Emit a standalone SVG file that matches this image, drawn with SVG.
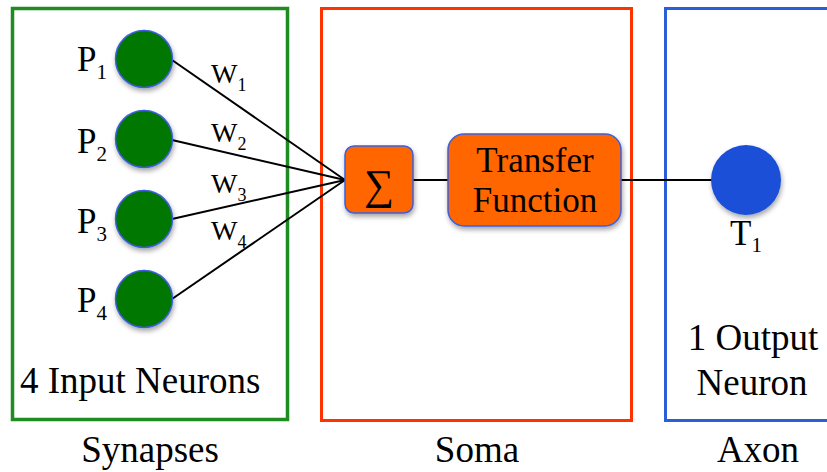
<svg xmlns="http://www.w3.org/2000/svg" width="827" height="472" viewBox="0 0 827 472">
<style>
text{font-family:"Liberation Serif","Times New Roman",serif;fill:#000}
.lbl{font-size:37px}
.p{font-size:35px}
.sub{font-size:21px}
.w{font-size:28px}
.wsub{font-size:18px}
.conn{stroke:#000;stroke-width:2;fill:none}
.in{fill:#007700;stroke:#3a5fe0;stroke-width:1.5}
.box{fill:#ff6600;stroke:#3a5fe0;stroke-width:1.5}
</style>
<defs>
<filter id="sh" x="-30%" y="-30%" width="160%" height="160%">
<feDropShadow dx="1" dy="3" stdDeviation="2.5" flood-color="#000" flood-opacity="0.35"/>
</filter>
</defs>
<rect width="827" height="472" fill="#fff"/>
<g id="synapses">
<rect x="12.5" y="8.5" width="275" height="411" fill="none" stroke="#1e8c1e" stroke-width="3.5"/>
<text class="lbl" x="20" y="393">4 Input Neurons</text>
<text class="lbl" x="150" y="462" text-anchor="middle">Synapses</text>
</g>
<g id="soma">
<rect x="321.5" y="8.5" width="310" height="412" fill="none" stroke="#ff3300" stroke-width="3"/>
<text class="lbl" x="477" y="462" text-anchor="middle">Soma</text>
</g>
<g id="axon">
<rect x="665.5" y="8.5" width="175" height="412" fill="none" stroke="#2b5fd9" stroke-width="3"/>
<text class="lbl" x="753" y="350" text-anchor="middle">1 Output</text>
<text class="lbl" x="752" y="395" text-anchor="middle">Neuron</text>
<text class="lbl" x="758" y="462" text-anchor="middle">Axon</text>
</g>
<g id="connectors">
<line class="conn" x1="172" y1="60" x2="345" y2="180"/>
<line class="conn" x1="172" y1="140" x2="345" y2="180"/>
<line class="conn" x1="172" y1="219" x2="345" y2="180"/>
<line class="conn" x1="172" y1="299" x2="345" y2="180"/>
<line class="conn" x1="413" y1="180" x2="448" y2="180"/>
<line class="conn" x1="621" y1="180" x2="712" y2="180"/>
</g>
<g id="P1">
<circle class="in" cx="144" cy="59" r="28.5" filter="url(#sh)"/>
<text class="p" x="77" y="71">P<tspan class="sub" dy="8">1</tspan></text>
</g>
<g id="P2">
<circle class="in" cx="144" cy="139" r="28.5" filter="url(#sh)"/>
<text class="p" x="77" y="153">P<tspan class="sub" dy="8">2</tspan></text>
</g>
<g id="P3">
<circle class="in" cx="144" cy="219" r="28.5" filter="url(#sh)"/>
<text class="p" x="77" y="233">P<tspan class="sub" dy="8">3</tspan></text>
</g>
<g id="P4">
<circle class="in" cx="144" cy="299" r="28.5" filter="url(#sh)"/>
<text class="p" x="77" y="312">P<tspan class="sub" dy="8">4</tspan></text>
</g>
<g id="weights">
<text class="w" x="211" y="83">W<tspan class="wsub" dy="8">1</tspan></text>
<text class="w" x="211" y="142">W<tspan class="wsub" dy="8">2</tspan></text>
<text class="w" x="211" y="193">W<tspan class="wsub" dy="8">3</tspan></text>
<text class="w" x="211" y="240">W<tspan class="wsub" dy="8">4</tspan></text>
</g>
<g id="sum">
<rect class="box" x="345" y="146" width="68" height="67" rx="9" filter="url(#sh)"/>
<text x="379" y="199" text-anchor="middle" font-size="42">∑</text>
</g>
<g id="transfer">
<rect class="box" x="448" y="134" width="173" height="92" rx="16" filter="url(#sh)"/>
<text x="535" y="172" text-anchor="middle" font-size="35">Transfer</text>
<text x="535" y="212" text-anchor="middle" font-size="35">Function</text>
</g>
<g id="T1">
<circle cx="746" cy="180" r="35" fill="#1a50d8" filter="url(#sh)"/>
<text class="p" x="730" y="245">T<tspan class="sub" dy="7">1</tspan></text>
</g>
</svg>
